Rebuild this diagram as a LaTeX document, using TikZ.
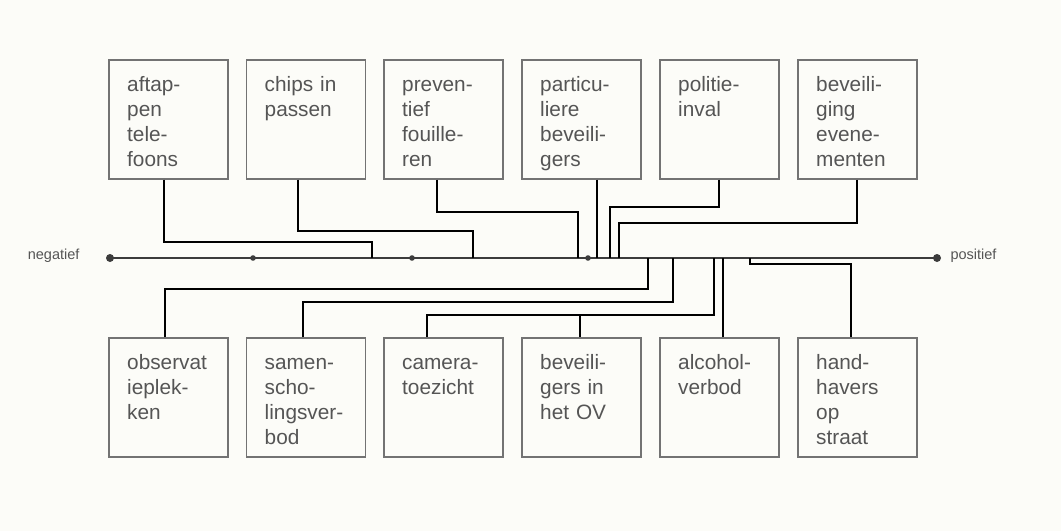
\documentclass[tikz,border=0pt]{standalone}
\usepackage{fontspec}
\setmainfont{Liberation Sans}
\usetikzlibrary{positioning,calc}
\definecolor{papier}{RGB}{252,252,248}
\definecolor{rand}{RGB}{115,115,115}
\definecolor{inkt}{RGB}{85,85,85}
\definecolor{as}{RGB}{60,60,60}

\tikzset{
  vak/.style={draw=rand,line width=1.7pt,minimum width=119pt,minimum height=119pt,
    inner sep=0pt,anchor=north west},
  tekst/.style={anchor=north west,inner sep=0pt,text width=100pt,align=left,text=inkt,
    font=\fontsize{20.8}{25}\selectfont,execute at begin node=\strut},
  lijn/.style={draw=black,line width=1.5pt},
  pool/.style={text=inkt,font=\fontsize{14.5}{16}\selectfont}
}

\begin{document}
\begin{tikzpicture}[x=1pt,y=-1pt]
  \fill[papier] (0,0) rectangle (1061,531);
  \useasboundingbox (0,0) rectangle (1061,531);

  % as van negatief naar positief
  \coordinate (neg) at (110,258);
  \coordinate (pos) at (937,258);
  \draw[as,line width=2.6pt] (neg) -- (pos);
  \fill[as] (neg) circle (4pt) (pos) circle (4pt);
  \foreach \p in {253,412,588}
    \fill[as] (\p,258) circle (2.8pt);
  \node[pool,anchor=east] (negatief) at (83,256) {negatief};
  \node[pool,anchor=west] (positief) at (947,256) {positief};

  % bovenste rij
  \foreach \n/\x/\t in {1/108/{aftap-\\pen\\tele-\\foons},2/245.5/{chips in\\passen},
      3/383/{preven-\\tief\\fouille-\\ren},4/521/{particu-\\liere\\beveili-\\gers},
      5/659/{politie-\\inval},6/797/{beveili-\\ging\\evene-\\menten}}{
    \node[vak] (t\n) at (\x,59) {};
    \node[tekst] (t\n-tekst) at ([xshift=19pt,yshift=-15pt]t\n.north west) {\t};
  }

  % onderste rij
  \foreach \n/\x/\t in {1/108/{observat\\ieplek-\\ken},2/245.5/{samen-\\scho-\\lingsver-\\bod},
      3/383/{camera-\\toezicht},4/521/{beveili-\\gers in\\het OV},
      5/659/{alcohol-\\verbod},6/797/{hand-\\havers\\op\\straat}}{
    \node[vak] (b\n) at (\x,337) {};
    \node[tekst] (b\n-tekst) at ([xshift=19pt,yshift=-15pt]b\n.north west) {\t};
  }

  % verbindingen boven
  \draw[lijn] (164,0 |- t1.south) |- (372,242) -- (372,0 |- neg);
  \draw[lijn] (298,0 |- t2.south) |- (473,231) -- (473,0 |- neg);
  \draw[lijn] (437,0 |- t3.south) |- (578,212) -- (578,0 |- neg);
  \draw[lijn] (597,0 |- t4.south) -- (597,0 |- neg);
  \draw[lijn] (719,0 |- t5.south) |- (610,207) -- (610,0 |- neg);
  \draw[lijn] (857,0 |- t6.south) |- (619,223) -- (619,0 |- neg);

  % verbindingen onder
  \draw[lijn] (165,0 |- b1.north) |- (648,289) -- (648,0 |- neg);
  \draw[lijn] (303,0 |- b2.north) |- (673,302) -- (673,0 |- neg);
  \draw[lijn] (427,0 |- b3.north) |- (714,315) -- (714,0 |- neg);
  \draw[lijn] (580,0 |- b4.north) -- (580,315);
  \draw[lijn] (723,0 |- b5.north) -- (723,0 |- neg);
  \draw[lijn] (851,0 |- b6.north) |- (750,264) -- (750,0 |- neg);
\end{tikzpicture}
\end{document}
